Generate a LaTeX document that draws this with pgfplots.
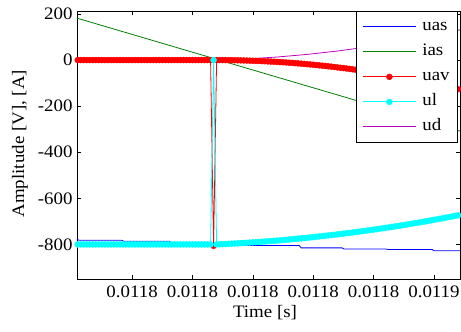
\documentclass[border=0pt]{standalone}
\usepackage{fontspec}
\setmainfont{Liberation Serif}[FakeStretch=1.08]
\usepackage{pgfplots}
\usepackage{pgfplotstable}
\pgfplotsset{compat=1.18}
\definecolor{mblue}{RGB}{0,0,255}
\definecolor{mgreen}{RGB}{0,128,0}
\definecolor{mred}{RGB}{255,0,0}
\definecolor{mcyan}{RGB}{0,255,255}
\definecolor{mmag}{RGB}{191,0,191}
\newcommand{\fs}{\fontsize{17.5bp}{20bp}\selectfont}

% x in units of 1e-5 s
\pgfplotstableread{
x uav ul
1179.05 0 -800
1179.10 0 -800
1179.15 0 -800
1179.20 0 -800
1179.25 0 -800
1179.30 0 -800
1179.35 0 -800
1179.40 0 -800
1179.45 0 -800
1179.50 0 -800
1179.55 0 -800
1179.60 0 -800
1179.65 0 -800
1179.70 0 -800
1179.75 0 -800
1179.80 0 -800
1179.85 0 -800
1179.90 0 -800
1179.95 0 -800
1180.00 0 -800
1180.05 0 -800
1180.10 0 -800
1180.15 0 -800
1180.20 0 -800
1180.25 0 -800
1180.30 0 -800
1180.35 0 -800
1180.40 0 -800
1180.45 0 -800
1180.50 0 -800
1180.55 0 -800
1180.60 0 -800
1180.65 0 -800
1180.70 0 -800
1180.75 0 -800
1180.80 0 -800
1180.85 0 -800
1180.90 0 -800
1180.95 0 -800
1181.00 0 -800
1181.05 0 -800
1181.10 0 -800
1181.15 0 -800
1181.20 0 -800
1181.25 0 -800
1181.30 0 -800
1181.35 -806 0
1181.40 0.0 -800.0
1181.45 0.0 -799.4
1181.50 -0.1 -798.8
1181.55 -0.2 -798.1
1181.60 -0.3 -797.4
1181.65 -0.5 -796.7
1181.70 -0.7 -796.0
1181.75 -1.0 -795.2
1181.80 -1.3 -794.4
1181.85 -1.6 -793.6
1181.90 -2.0 -792.8
1181.95 -2.4 -791.9
1182.00 -2.8 -791.0
1182.05 -3.3 -790.1
1182.10 -3.9 -789.2
1182.15 -4.4 -788.2
1182.20 -5.1 -787.3
1182.25 -5.7 -786.3
1182.30 -6.4 -785.2
1182.35 -7.1 -784.2
1182.40 -7.9 -783.1
1182.45 -8.7 -782.0
1182.50 -9.6 -780.9
1182.55 -10.4 -779.7
1182.60 -11.4 -778.5
1182.65 -12.3 -777.3
1182.70 -13.4 -776.1
1182.75 -14.4 -774.9
1182.80 -15.5 -773.6
1182.85 -16.6 -772.3
1182.90 -17.8 -771.0
1182.95 -19.0 -769.6
1183.00 -20.2 -768.3
1183.05 -21.5 -766.9
1183.10 -22.8 -765.4
1183.15 -24.2 -764.0
1183.20 -25.6 -762.5
1183.25 -27.0 -761.0
1183.30 -28.5 -759.5
1183.35 -30.0 -758.0
1183.40 -31.6 -756.4
1183.45 -33.2 -754.8
1183.50 -34.8 -753.2
1183.55 -36.5 -751.5
1183.60 -38.2 -749.9
1183.65 -40.0 -748.2
1183.70 -41.8 -746.5
1183.75 -43.6 -744.7
1183.80 -45.5 -743.0
1183.85 -47.4 -741.2
1183.90 -49.4 -739.4
1183.95 -51.4 -737.5
1184.00 -53.4 -735.7
1184.05 -55.5 -733.8
1184.10 -57.6 -731.9
1184.15 -59.7 -729.9
1184.20 -61.9 -728.0
1184.25 -64.2 -726.0
1184.30 -66.4 -724.0
1184.35 -68.8 -722.0
1184.40 -71.1 -719.9
1184.45 -73.5 -717.8
1184.50 -75.9 -715.7
1184.55 -78.4 -713.6
1184.60 -80.9 -711.4
1184.65 -83.4 -709.2
1184.70 -86.0 -707.0
1184.75 -88.7 -704.8
1184.80 -91.3 -702.6
1184.85 -94.0 -700.3
1184.90 -96.8 -698.0
1184.95 -99.6 -695.6
1185.00 -102.4 -693.3
1185.05 -105.2 -690.9
1185.10 -108.2 -688.5
1185.15 -111.1 -686.1
1185.20 -114.1 -683.6
1185.25 -117.1 -681.2
1185.30 -120.2 -678.7
1185.35 -123.3 -676.1
1185.40 -126.4 -673.6
1185.45 -129.6 -671.0
}\dataV

\begin{document}
\begin{tikzpicture}
\useasboundingbox (-77bp,-53bp) rectangle (384bp,279bp);
\begin{axis}[
  scale only axis,
  width=383bp, height=268bp,
  xmin=1179.088, xmax=1185.431,
  ymin=-950, ymax=213,
  axis line style={line width=0.8bp},
  every tick/.style={black, line width=0.6bp},
  major tick length=4bp,
  tick align=inside,
  xtick={1180,1181,1182,1183,1184,1185},
  xticklabels={0.0118,0.0118,0.0118,0.0118,0.0118,0.0119},
  ytick={-800,-600,-400,-200,0,200},
  yticklabels={-800,-600,-400,-200,0,200},
  font=\fs,
  ticklabel style={font=\fs},
  xticklabel style={yshift=-3bp},
  yticklabel style={xshift=-1bp},
  xlabel={Time [s]},
  ylabel={Amplitude [V], [A]},
  xlabel style={at={(axis description cs:0.491,-0.126)}, anchor=center},
  ylabel style={at={(axis description cs:-0.149,0.505)}, anchor=center},
  legend style={
    at={(rel axis cs:1,1)}, anchor=north east, xshift=-2bp,
    draw=black, line width=0.8bp, fill=white,
    font=\fs,
    inner xsep=6bp, inner ysep=6.5bp,
    nodes={inner sep=2bp, text height=11bp, text depth=3bp},
    row sep=7bp,
    /tikz/every odd column/.append style={column sep=4bp},
  },
  legend cell align=left,
  legend image code/.code={%
    \draw[mark repeat=2,mark phase=2,#1] plot coordinates {(2bp,0bp) (28.5bp,0bp) (55bp,0bp)};},
]
\addplot[mblue, line width=0.8bp] coordinates {
(1179.06,-776) (1179.13,-782) (1179.83,-782) (1179.86,-786) (1180.62,-786) (1180.65,-795)
(1181.40,-795) (1181.43,-805) (1182.77,-805) (1182.80,-815) (1183.48,-815) (1183.51,-820)
(1184.21,-820) (1184.24,-822) (1184.97,-822) (1185.00,-827) (1185.45,-827)};
\addlegendentry{uas}
\addplot[mgreen, line width=0.8bp] coordinates {(1179.05,184.9) (1185.45,-309.5)};
\addlegendentry{ias}
\addplot[mred, line width=0.8bp, mark=*, mark size=3pt, mark options={fill=mred, draw=mred, line width=0.4bp}] table[x=x, y=uav] {\dataV};
\addlegendentry{uav}
\addplot[mcyan, line width=0.8bp, mark=*, mark size=3pt, mark options={fill=mcyan, draw=mcyan, line width=0.4bp}] table[x=x, y=ul] {\dataV};
\addlegendentry{ul}
\addplot[mmag, line width=0.8bp] coordinates {
(1181.40,0) (1181.90,5.0) (1182.40,13.2) (1182.90,24.6) (1183.40,39.2) (1183.90,56.9)
(1184.40,77.9) (1184.90,102.0) (1185.40,129.3) (1185.45,132.5)};
\addlegendentry{ud}
\end{axis}
\end{tikzpicture}
\end{document}
